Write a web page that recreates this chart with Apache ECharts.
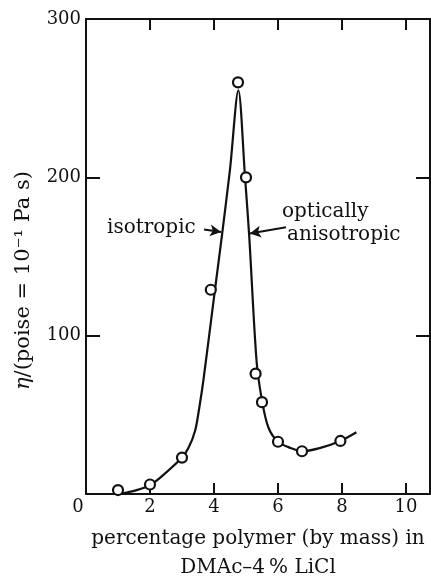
<!DOCTYPE html>
<html>
<head>
<meta charset="utf-8">
<script src="https://cdn.jsdelivr.net/npm/echarts@6/dist/echarts.min.js"></script>
<style>
  html, body { margin: 0; padding: 0; background: #fff; }
  #main { width: 431px; height: 577px; }
</style>
</head>
<body>
<div id="main"></div>
<script>
// measured points (circles)
var pointX = [1, 2, 3, 3.9, 4.75, 5.0, 5.3, 5.5, 6.0, 6.75, 7.95];
var pointY = [2.5, 6, 23, 129, 260, 200, 76, 58, 33, 27, 33.5];

// hand-drawn trend curve
var curveX = [1.15, 1.5, 2.0, 2.5, 3.0, 3.2, 3.41, 3.54, 3.67, 4.03, 4.24, 4.5, 4.76, 4.97, 5.1, 5.33, 5.5, 5.7, 6.0, 6.4, 6.75, 7.3, 7.95, 8.45];
var curveY = [0.5, 2, 5.5, 13.5, 23, 29, 40, 54.5, 72, 129, 162, 205, 255, 200, 163, 84, 59, 42, 33, 29, 27, 29, 33.5, 39];

// arrows for the labels
var isoArrow = [[3.69, 167], [4.22, 165.5]];
var anisoArrow = [[6.25, 168.5], [5.12, 164.5]];

var yTicks = [0, 100, 200, 300];

function pairs(xs, ys) {
	var out = [];
	for (var i = 0; i < xs.length; i++) out.push([xs[i], ys[i]]);
	return out;
}

var font = 'DejaVu Serif';
var ink = '#111';

// 框线（上、右）只要线和刻度
function frameX(pos) {
	return {
		type: 'value', min: 0, max: 10.75, interval: 2,
		position: pos,
		splitLine: { show: false },
		axisLine: { onZero: false, lineStyle: { color: ink, width: 2 } },
		axisTick: { inside: true, length: 11, lineStyle: { color: ink, width: 2 } },
		axisLabel: { show: false }
	};
}
function frameY(pos) {
	return {
		type: 'value', min: yTicks[0], max: yTicks[3], interval: 100,
		position: pos,
		splitLine: { show: false },
		axisLine: { onZero: false, lineStyle: { color: ink, width: 2 } },
		axisTick: { inside: true, length: 14, lineStyle: { color: ink, width: 2 } },
		axisLabel: { show: false }
	};
}

var xMain = frameX('bottom');
xMain.axisLabel = {
	color: ink, fontFamily: font, fontSize: 18, margin: 4,
	formatter: function (v) {
		if (v === 0) return '{z|0}';
		return v % 2 === 0 ? String(v) : '';
	},
	rich: { z: { fontFamily: font, fontSize: 18, color: ink, padding: [0, 16, 0, 0] } }
};
xMain.name = 'percentage polymer (by mass) in\nDMAc\u20134\u2009% LiCl';
xMain.nameLocation = 'middle';
xMain.nameGap = 30;
xMain.nameTextStyle = { color: ink, fontFamily: font, fontSize: 20, lineHeight: 29 };

var yMain = frameY('left');
yMain.axisLabel = {
	color: ink, fontFamily: font, fontSize: 18, margin: 5,
	formatter: function (v) { return v === 0 ? '' : String(v); }
};
yMain.name = '{i|\u03b7}/(poise = 10\u207b\u00b9 Pa s)';
yMain.nameLocation = 'middle';
yMain.nameGap = 52;
yMain.nameTextStyle = {
	color: ink, fontFamily: font, fontSize: 21, padding: [0, 48, 0, 0],
	rich: { i: { fontFamily: font, fontSize: 21, fontStyle: 'italic', color: ink } }
};

var myChart = echarts.init(document.getElementById('main'));
var option = {
	animation: false,
	grid: { left: 86, right: 1, top: 19, bottom: 83, outerBoundsMode: 'none' },
	xAxis: [xMain, frameX('top')],
	yAxis: [yMain, frameY('right')],
	graphic: [
		{ type: 'text', left: 107, top: 218, style: { text: 'isotropic', fontFamily: font, fontSize: 20, fill: ink } },
		{ type: 'text', left: 282, top: 202, style: { text: 'optically', fontFamily: font, fontSize: 20, fill: ink } },
		{ type: 'text', left: 287, top: 225, style: { text: 'anisotropic', fontFamily: font, fontSize: 20, fill: ink } }
	],
	series: [
		{
			name: 'curve',
			type: 'line',
			data: pairs(curveX, curveY),
			smooth: 0.3,
			showSymbol: false,
			symbol: 'none',
			lineStyle: { color: ink, width: 2.2 },
			z: 2,
			markLine: {
				silent: true,
				symbol: ['none', 'arrow'],
				symbolSize: [9, 11],
				label: { show: false },
				lineStyle: { color: ink, width: 2, type: 'solid' },
				data: [
					[{ coord: isoArrow[0] }, { coord: isoArrow[1] }],
					[{ coord: anisoArrow[0] }, { coord: anisoArrow[1] }]
				]
			}
		},
		{
			name: 'points',
			type: 'scatter',
			data: pairs(pointX, pointY),
			symbol: 'circle',
			symbolSize: 10,
			itemStyle: { color: '#fff', borderColor: ink, borderWidth: 2.2, opacity: 1 },
			z: 3
		}
	]
};
myChart.setOption(option);
</script>
</body>
</html>
